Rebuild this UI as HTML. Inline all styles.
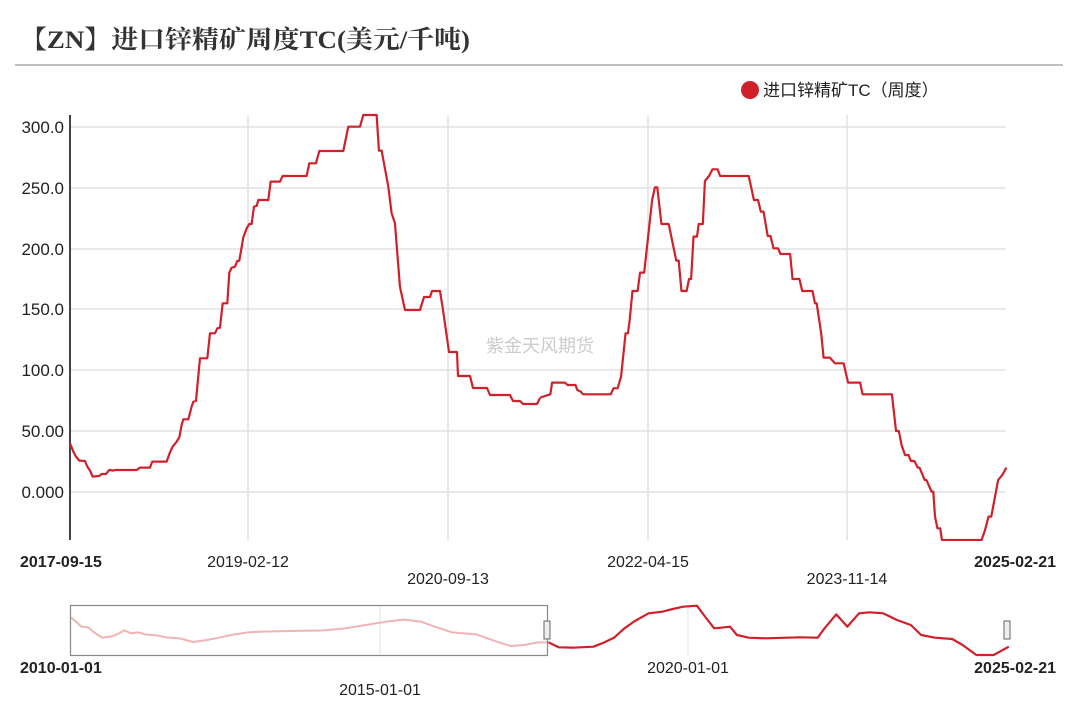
<!DOCTYPE html>
<html><head><meta charset="utf-8"><style>
body{margin:0;background:#fff;}
svg text{font-family:"Liberation Sans","Noto Sans CJK SC",sans-serif;}
</style></head><body>
<svg width="1080" height="705" xmlns="http://www.w3.org/2000/svg">
<text x="20" y="48" font-size="25" font-weight="bold" fill="#333" textLength="450" lengthAdjust="spacingAndGlyphs" style="font-family:'Liberation Serif','Noto Serif CJK SC',serif">【ZN】进口锌精矿周度TC(美元/千吨)</text>
<line x1="15" y1="65" x2="1063" y2="65" stroke="#aaa" stroke-width="1.5"/>
<circle cx="750" cy="90" r="9" fill="#d0202a"/>
<text x="763" y="96" font-size="17" fill="#222">进口锌精矿TC（周度）</text>
<g stroke="#e2e2e2" stroke-width="1.5">
<line x1="70" y1="127" x2="1006" y2="127"/><line x1="70" y1="188" x2="1006" y2="188"/>
<line x1="70" y1="249" x2="1006" y2="249"/><line x1="70" y1="309" x2="1006" y2="309"/>
<line x1="70" y1="370" x2="1006" y2="370"/><line x1="70" y1="431" x2="1006" y2="431"/>
<line x1="70" y1="492" x2="1006" y2="492"/>
<line x1="248" y1="115" x2="248" y2="540"/><line x1="448" y1="115" x2="448" y2="540"/>
<line x1="648" y1="115" x2="648" y2="540"/><line x1="847" y1="115" x2="847" y2="540"/>
</g>
<line x1="70" y1="115" x2="70" y2="540" stroke="#444" stroke-width="2"/>
<g font-size="17" fill="#222" text-anchor="end">
<text x="64" y="133">300.0</text><text x="64" y="194">250.0</text><text x="64" y="255">200.0</text>
<text x="64" y="315">150.0</text><text x="64" y="376">100.0</text><text x="64" y="437">50.00</text><text x="64" y="498">0.000</text>
</g>
<text x="540" y="352" font-size="18" fill="#ccc" text-anchor="middle">紫金天风期货</text>
<g fill="none" stroke="#d0202a" stroke-width="2.2" stroke-linejoin="round">
<polyline transform="translate(0,100) scale(0.3333,0.3333)" vector-effect="non-scaling-stroke" points="210,1030 220,1055 228,1070 238,1082 255,1083 262,1100 270,1112 278,1130 298,1128 305,1122 318,1122 328,1110 340,1112 345,1110 410,1110 420,1103 450,1103 457,1085 500,1085 510,1057 518,1040 530,1025 538,1012 545,975 550,958 565,958 575,920 580,905 588,903 600,775 622,775 630,700 645,700 652,685 660,683 668,610 682,610 688,518 695,503 705,500 712,483 718,482 730,412 740,385 748,372 755,372 762,320 770,318 775,300 805,300 812,245 840,245 848,228 920,228 928,190 948,190 958,153 1030,153 1045,80 1080,80 1090,45 1130,45 1137,152 1145,152 1165,260 1175,340 1185,370 1200,561"/>
<polyline points="400,287 405,310 420,310 424,297 430,297 432,291 440,291 443,310 447,338 449,352 457,352 458,376 470,376 473,388 487,388 490,395 510,395 513,401 520,401 523,404 537,404 540,398"/>
<polyline transform="translate(540,100) scale(0.345,0.3333)" vector-effect="non-scaling-stroke" points="0,893 30,883 35,848 72,848 80,855 103,855 108,870 118,875 125,883 205,883 213,865 225,865 235,830 248,700 255,700 260,660 268,573 283,573 290,518 302,518 325,300 333,262 340,262 352,372 373,372 395,482 402,482 410,573 425,573 432,537 438,537 445,410 455,410 460,372 472,372 478,243 490,228 500,208 515,208 522,228 605,228 620,300 632,300 640,335 648,335 660,408 668,408 677,445 690,445 697,462 725,462 732,537 752,537 760,573 790,573 797,610 802,610 815,700 822,773 840,773 855,790 880,790 893,848 928,848 935,883 1020,883 1032,993 1040,993 1048,1035 1058,1065 1068,1065 1075,1083 1085,1083 1095,1103 1100,1103 1115,1140 1120,1140 1135,1175 1140,1175 1145,1250 1152,1285 1160,1285 1165,1320 1280,1320 1290,1290 1300,1250 1308,1250 1328,1140 1340,1125 1352,1103"/>
</g>
<g font-size="16" fill="#222">
<text x="20" y="567" font-weight="bold">2017-09-15</text>
<text x="248" y="567" text-anchor="middle">2019-02-12</text>
<text x="448" y="584" text-anchor="middle">2020-09-13</text>
<text x="648" y="567" text-anchor="middle">2022-04-15</text>
<text x="847" y="584" text-anchor="middle">2023-11-14</text>
<text x="1056" y="567" font-weight="bold" text-anchor="end">2025-02-21</text>
</g>
<line x1="688" y1="605" x2="688" y2="655" stroke="#e2e2e2"/>
<line x1="380" y1="605" x2="380" y2="655" stroke="#e2e2e2"/>
<g transform="translate(0,595) scale(0.69,0.3333)" fill="none" stroke-linejoin="round">
<polyline vector-effect="non-scaling-stroke" stroke="#f0b4b4" stroke-width="2" points="103,68 110,80 118,95 128,97 135,110 148,128 160,125 170,118 180,106 190,115 200,112 210,118 230,122 240,127 260,130 280,141 300,135 320,127 340,118 360,112 380,110 420,108 470,106 500,100 530,90 560,80 585,74 610,80 630,95 655,112 690,118 720,140 740,153 760,150 780,142 795,142"/>
<polyline vector-effect="non-scaling-stroke" stroke="#d0202a" stroke-width="2.2" points="795,142 810,157 830,158 860,155 875,143 890,128 905,100 920,78 940,55 960,50 975,42 990,35 1010,32 1020,60 1035,100 1045,98 1058,95 1068,120 1085,128 1110,130 1140,128 1160,127 1185,128 1195,100 1212,58 1228,95 1245,55 1260,52 1280,55 1300,75 1320,90 1335,120 1355,128 1380,132 1395,150 1415,180 1440,180 1462,155"/>
</g>
<rect x="70.5" y="605.5" width="477" height="50" fill="none" stroke="#888" stroke-width="1.2"/>
<rect x="544" y="621" width="6" height="18" fill="#eee" stroke="#666"/>
<rect x="1004" y="621" width="6" height="18" fill="#eee" stroke="#666"/>
<g font-size="16" fill="#222">
<text x="20" y="673" font-weight="bold">2010-01-01</text>
<text x="688" y="673" text-anchor="middle">2020-01-01</text>
<text x="1056" y="673" font-weight="bold" text-anchor="end">2025-02-21</text>
<text x="380" y="695" text-anchor="middle">2015-01-01</text>
</g>
</svg>
</body></html>
